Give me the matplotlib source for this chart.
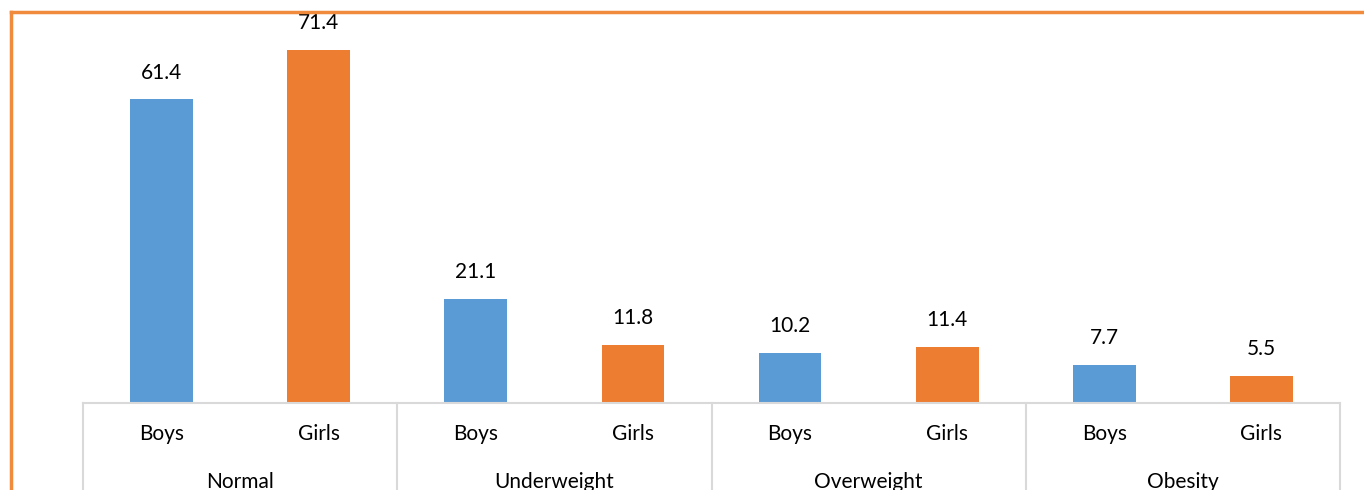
import matplotlib.pyplot as plt
import matplotlib.transforms as mtransforms
from matplotlib.lines import Line2D

groups = ["Normal", "Underweight", "Overweight", "Obesity"]
sexes = ["Boys", "Girls"]
boys = [61.4, 21.1, 10.2, 7.7]
girls = [71.4, 11.8, 11.4, 5.5]

blue = "#5B9BD5"
orange = "#ED7D31"
grid_gray = "#D9D9D9"

plt.rcParams['font.family'] = ['Lato', 'DejaVu Sans']

W, H = 1364, 490
fig = plt.figure(figsize=(W / 100, H / 100), dpi=100)
ax = fig.add_axes([83 / W, (H - 403) / H, (1340 - 83) / W, (403 - 7) / H])

values = []
colors = []
for b, g in zip(boys, girls):
    values += [b, g]
    colors += [blue, orange]
xs = list(range(len(values)))

bars = ax.bar(xs, values, width=0.4, color=colors, zorder=2)
for x, v in zip(xs, values):
    ax.annotate(f"{v:.1f}", (x, v), xytext=(0, 19), textcoords="offset points",
                ha="center", va="center", fontsize=15, color="#000000")

ax.set_xlim(-0.5, len(values) - 0.5)
ax.set_ylim(0, 80)
ax.set_xticks([])
ax.set_yticks([])
for s in ["top", "right", "left"]:
    ax.spines[s].set_visible(False)
ax.spines["bottom"].set_color(grid_gray)
ax.spines["bottom"].set_linewidth(1.5)

# multi-level category axis
trans = mtransforms.blended_transform_factory(ax.transData, fig.transFigure)
for d in [-0.5, 1.5, 3.5, 5.5, 7.5]:
    ax.add_line(Line2D([d, d], [(H - 403) / H, 0], transform=trans,
                       color=grid_gray, lw=1.5, clip_on=False))
for x in xs:
    fig.text(x, (H - 434) / H, sexes[x % 2], transform=trans,
             ha="center", va="center", fontsize=15)
for i, g in enumerate(groups):
    fig.text(2 * i + 0.5, (H - 482) / H, g, transform=trans,
             ha="center", va="center", fontsize=15)

# orange frame around the chart
fig.add_artist(Line2D([11 / W, 11 / W], [0, (H - 12) / H], transform=fig.transFigure,
                      color="#F08A3C", lw=2.5))
fig.add_artist(Line2D([11 / W, 1], [(H - 12) / H, (H - 12) / H], transform=fig.transFigure,
                      color="#F08A3C", lw=2.5))

fig.savefig("out.png", dpi=100)
